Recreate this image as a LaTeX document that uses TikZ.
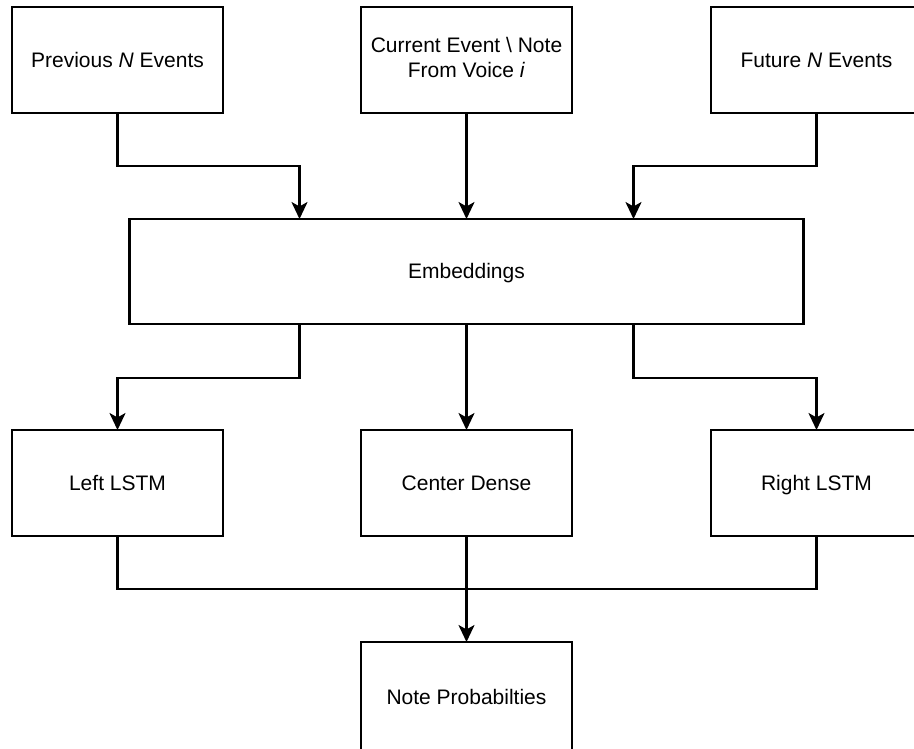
\documentclass[tikz,border=0pt]{standalone}
\usepackage{fontspec}
\setmainfont{Liberation Sans}
\usepackage{tikz}
\usetikzlibrary{arrows.meta, positioning, calc}

\begin{document}
\begin{tikzpicture}[x=1pt, y=-1pt, node distance=106pt, font=\fontsize{21pt}{25pt}\selectfont]
    \tikzstyle{block} = [rectangle, draw, line width=2.4pt, fill=white,
        minimum width=211pt, minimum height=106pt, align=center,
        inner sep=0pt, outer sep=0pt,
        execute at begin node={\rule[-5pt]{0pt}{24pt}},
        execute at end node={\rule[-5pt]{0pt}{5pt}}]
    \tikzstyle{wide} = [block, minimum width=674pt, minimum height=105pt]
    \tikzstyle{line} = [draw, line width=2.4pt, -{Stealth[length=17pt, width=16pt, inset=4.5pt]}]
    \tikzstyle{plainline} = [draw, line width=2.4pt]

    \useasboundingbox (0,0) rectangle (914,748);

    \node [block] (prev) at (117.5,60) {Previous \textit{N} Events};
    \node [block, right=138pt of prev] (cur) {Current Event \textbackslash{} Note\\From Voice \textit{i}};
    \node [block, right=139pt of cur] (fut) {Future \textit{N} Events};

    \node [wide, below=106pt of cur] (emb) {Embeddings};

    \node [block, below=106pt of emb] (dense) {Center Dense};
    \node [block, left=138pt of dense] (left) {Left LSTM};
    \node [block, right=139pt of dense] (right) {Right LSTM};

    \node [block, below=106pt of dense, minimum height=110pt] (note) {Note Probabilties};

    % entry and exit points on the embeddings box
    \coordinate (embL) at ([xshift=-167pt]emb.north);
    \coordinate (embR) at ([xshift=167pt]emb.north);
    \coordinate (outL) at ([xshift=-167pt]emb.south);
    \coordinate (outR) at ([xshift=167pt]emb.south);
    \coordinate (merge) at ($(dense.south)!0.5!(note.north)$);

    \path [line] (prev.south) -- ++(0,53) -| (embL);
    \path [line] (cur.south) -- (cur.south |- emb.north);
    \path [line] (fut.south) -- ++(0,53) -| (embR);

    \path [line] (outL) -- ++(0,54) -| (left.north);
    \path [line] (emb.south -| dense.north) -- (dense.north);
    \path [line] (outR) -- ++(0,54) -| (right.north);

    \path [plainline] (left.south) |- (merge);
    \path [plainline] (right.south) |- (merge);
    \path [line] (dense.south) -- (note.north);
\end{tikzpicture}
\end{document}
